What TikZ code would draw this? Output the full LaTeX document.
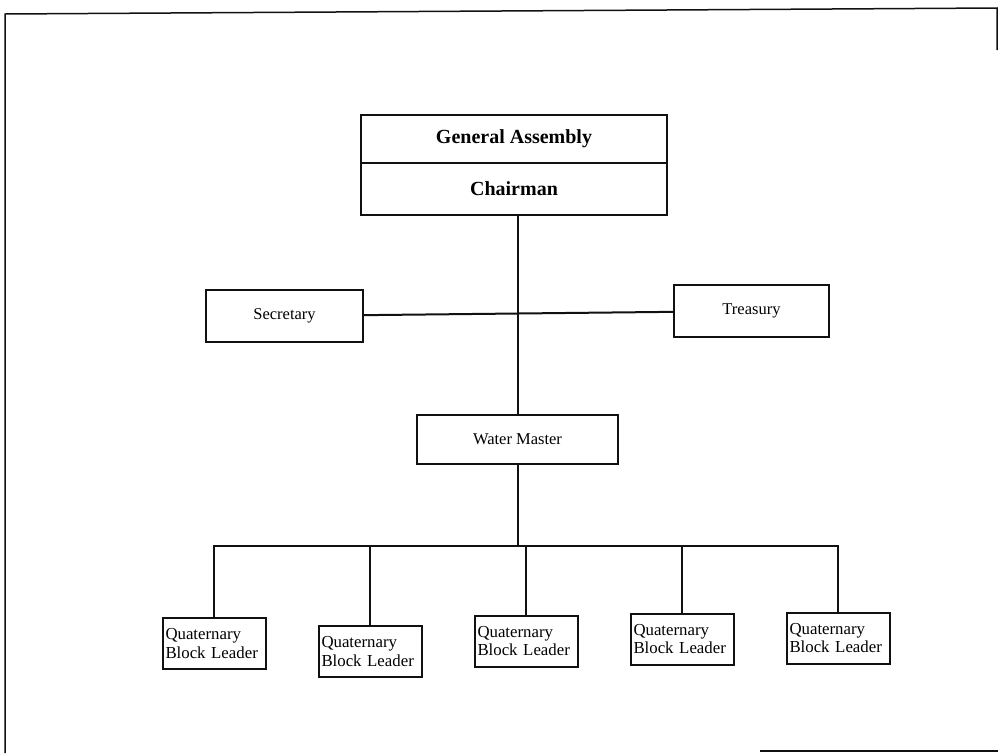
\documentclass[tikz,border=0pt]{standalone}
\usepackage{fontspec}
\setmainfont{Liberation Serif}
\usepackage{tikz}
\usetikzlibrary{positioning}
\definecolor{ink}{HTML}{111111}
\tikzset{
  headbox/.style={draw=ink,line width=2pt,outer sep=0pt,minimum width=306pt,
    align=center,font=\fontsize{20}{22}\selectfont\bfseries},
  officebox/.style={draw=ink,line width=2pt,minimum height=52pt,align=center,
    font=\fontsize{16.5}{19}\selectfont},
  leaderbox/.style={draw=ink,line width=2pt,text width=97pt,inner sep=3pt,
    minimum height=51pt,align=left,font=\fontsize{16.8}{18.5}\selectfont},
  link/.style={draw=ink,line width=2pt,line cap=rect},
  pageframe/.style={draw=ink,line width=1.5pt}
}

\begin{document}
\begin{tikzpicture}[x=1pt,y=-1pt,node distance=51pt]
  \useasboundingbox (0,0) rectangle (998,753);
  % edge of the sheet
  \draw[pageframe] (5,753) -- (5,14) -- (997,8) -- (997,50);
  \draw[pageframe] (760,751) -- (998,751);
  % assembly and chairman
  \node[headbox,minimum height=48pt] (assembly) at (514,139) {General Assembly};
  \node[headbox,minimum height=52pt,below=0pt of assembly] (chair) {Chairman};
  % officers
  \node[officebox,minimum width=157pt] (secretary) at (284.5,316) {Secretary};
  \node[officebox,minimum width=155pt] (treasury) at (751.5,311) {Treasury};
  \node[officebox,minimum width=201pt,minimum height=49pt] (water) at (517.5,439.5) {Water Master};
  % block leaders
  \node[leaderbox] (q1) at (214,643.5) {Quaternary\\Block Leader};
  \node[leaderbox,right=of q1,yshift=-8pt] (q2) {Quaternary\\Block Leader};
  \node[leaderbox,right=of q2,yshift=10.5pt] (q3) {Quaternary\\Block Leader};
  \node[leaderbox,right=of q3,yshift=2pt] (q4) {Quaternary\\Block Leader};
  \node[leaderbox,right=of q4,yshift=1pt] (q5) {Quaternary\\Block Leader};
  \coordinate (bus) at (521,546);
  \draw[link] (water.north |- chair.south) -- (water.north);
  \draw[link] (secretary) -- (treasury);
  \draw[link] (water.south) -- (water.south |- bus);
  \draw[link] (q1.north |- bus) -- (q5.north |- bus);
  \foreach \q in {q1,q2,q3,q4,q5}
    \draw[link] (\q.north |- bus) -- (\q.north);
\end{tikzpicture}
\end{document}
